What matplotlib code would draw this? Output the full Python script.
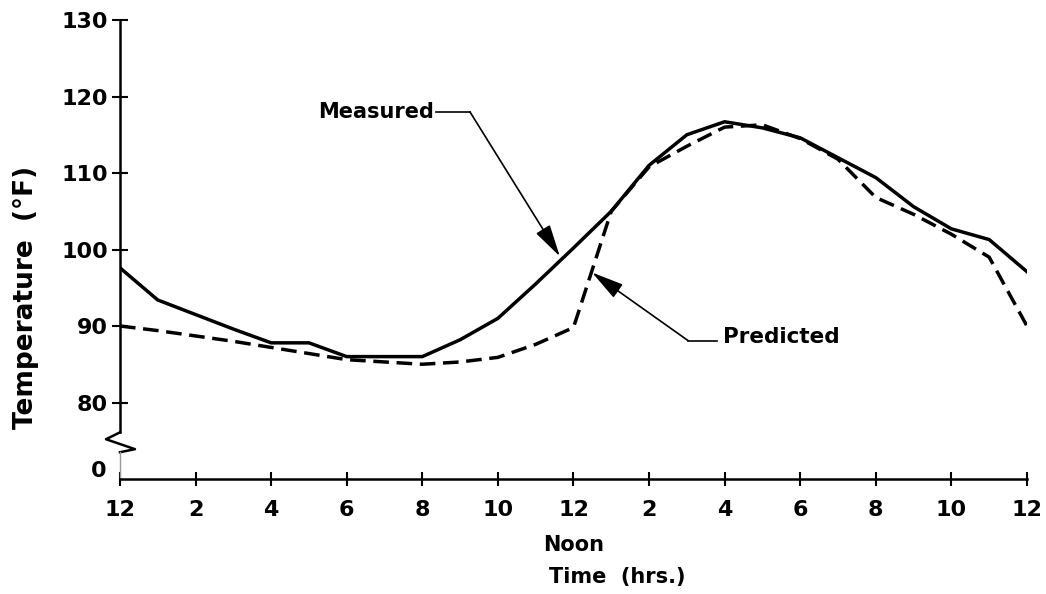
import matplotlib
matplotlib.use("Agg")
import matplotlib.pyplot as plt

# hours after midnight, 0..24
hours = list(range(25))
measured = [97.6, 93.4, 91.5, 89.6, 87.8, 87.8, 86.0, 86.0, 86.0, 88.2, 91.0,
            95.5, 100.2, 105.0, 111.0, 115.0, 116.7, 115.9, 114.6, 112.0, 109.4,
            105.6, 102.7, 101.3, 97.1]
predicted = [90.0, 89.4, 88.7, 88.0, 87.2, 86.4, 85.6, 85.3, 85.0, 85.3, 85.9,
             87.6, 89.8, 105.0, 110.8, 113.5, 116.0, 116.3, 114.5, 111.8, 106.8,
             104.6, 102.0, 99.0, 90.0]

xticks = list(range(0, 25, 2))
xticklabels = ['12', '2', '4', '6', '8', '10', '12', '2', '4', '6', '8', '10', '12']
yticks = [80, 90, 100, 110, 120, 130]

plt.rcParams['font.family'] = ['DejaVu Sans']
plt.rcParams['font.weight'] = 'bold'

fig = plt.figure(figsize=(10.46, 5.94), dpi=100)
ax = fig.add_axes([0.1147, 0.1936, 0.8671, 0.7727])

ax.plot(hours, measured, color='black', lw=2.5, solid_joinstyle='miter')
ax.plot(hours, predicted, color='black', lw=2.5, dashes=(4.5, 2.2))

ax.set_xlim(0, 24)
ax.set_ylim(70, 130)

for s in ['top', 'right', 'left']:
    ax.spines[s].set_visible(False)
ax.spines['bottom'].set_linewidth(1.8)

ax.set_xticks(xticks)
ax.set_xticklabels(xticklabels, fontsize=16, fontweight='bold')
ax.set_yticks(yticks)
ax.set_yticklabels([str(v) for v in yticks], fontsize=16, fontweight='bold')
ax.tick_params(axis='x', direction='inout', length=10, width=1.5, pad=10)
ax.tick_params(axis='y', direction='inout', length=11, width=1.5, pad=3)

# broken y axis
ytr = ax.get_yaxis_transform()
ax.plot([0, 0], [76.1, 130], transform=ytr, clip_on=False, color='black', lw=1.8)
ax.plot([0, -0.0154, 0.0165, 0], [76.1, 75.2, 73.9, 73.5], transform=ytr,
        clip_on=False, color='black', lw=1.8)
ax.plot([0, 0], [70, 73.5], transform=ytr, clip_on=False, color='0.6', lw=1)
ax.text(-0.024, 71, '0', transform=ytr, ha='center', va='center',
        fontsize=16, fontweight='bold')

ax.text(-0.104, 93.7, 'Temperature  (°F)', transform=ytr, rotation=90,
        ha='center', va='center', fontsize=19, fontweight='bold')

xtr = ax.get_xaxis_transform()
ax.text(12, -0.144, 'Noon', transform=xtr, ha='center', va='center',
        fontsize=15, fontweight='bold')
ax.text(11.35, -0.2135, 'Time  (hrs.)', transform=xtr, ha='left', va='center',
        fontsize=15, fontweight='bold')

# callouts
arrow = dict(arrowstyle='-|>,head_length=1.0,head_width=0.25', color='black',
             lw=1.2, mutation_scale=20, shrinkA=0, shrinkB=0)
ax.text(8.3, 118.0, 'Measured', ha='right', va='center', fontsize=15, fontweight='bold')
ax.plot([8.35, 9.26], [118.0, 118.0], color='black', lw=1.2)
ax.annotate('', xy=(11.64, 99.1), xytext=(9.26, 118.0), arrowprops=arrow)

ax.text(15.95, 88.5, 'Predicted', ha='left', va='center', fontsize=15.5, fontweight='bold')
ax.plot([15.03, 15.8], [88.1, 88.1], color='black', lw=1.2)
ax.annotate('', xy=(12.49, 97.0), xytext=(15.03, 88.1), arrowprops=arrow)

fig.savefig('out.png', dpi=100)
